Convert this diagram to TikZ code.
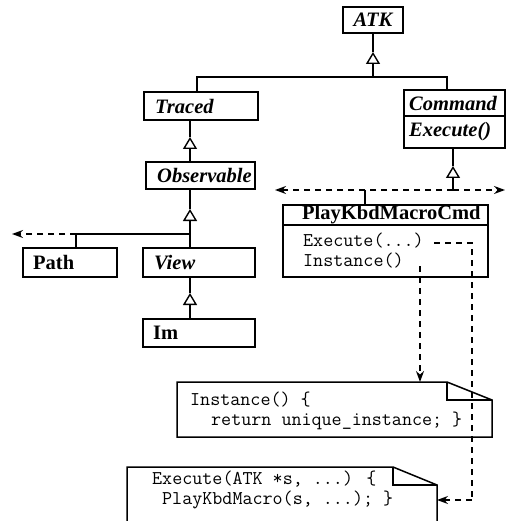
\documentclass[tikz,border=0pt]{standalone}
\usepackage{fontspec}
\setmainfont{Liberation Serif}
\usetikzlibrary{arrows.meta}
\begin{document}
\begin{tikzpicture}[x=1pt,y=-1pt,
  box/.style={draw, line width=1.4pt, inner sep=0pt},
  ghost/.style={inner sep=0pt, outer sep=0pt},
  lbli/.style={anchor=west, inner sep=0pt, font=\fontsize{20.5}{24}\selectfont\bfseries\itshape},
  lblb/.style={anchor=west, inner sep=0pt, font=\fontsize{20.5}{24}\selectfont\bfseries},
  code/.style={anchor=west, inner sep=0pt, font=\fontsize{19.5}{22}\selectfont\ttfamily},
  conn/.style={line width=1.4pt},
  inh/.style={conn, -{Triangle[open,length=12pt,width=14pt]}},
  dep/.style={conn, dash pattern=on 6pt off 5pt, -{Stealth[length=11pt,width=8pt]}},
  note/.style={line width=1.5pt, line join=miter}
]
\useasboundingbox (0,0) rectangle (507,521);

% class boxes
\node[box, minimum width=60pt, minimum height=26pt] (atk) at (373,20) {};
\node[lbli, anchor=center] (atkt) at (373,20) {ATK};

\node[box, minimum width=114pt, minimum height=28pt] (traced) at (201,106) {};
\node[lbli] (tracedt) at (155,106) {Traced};

\node[box, minimum width=109pt, minimum height=27pt] (obs) at (200.5,175.5) {};
\node[lbli] (obst) at (157,175.5) {Observable};

\node[box, minimum width=94pt, minimum height=29pt] (path) at (70,262.5) {};
\node[lblb] (patht) at (33,262.5) {Path};

\node[box, minimum width=112pt, minimum height=29pt] (view) at (199,262.5) {};
\node[lbli] (viewt) at (154,262.5) {View};

\node[box, minimum width=112pt, minimum height=28pt] (im) at (199,333) {};
\node[lblb] (imt) at (153,333) {Im};

\node[box, minimum width=101pt, minimum height=58pt] (cmd) at (454.5,119) {};
\draw[line width=1.4pt] (cmd.west |- 0,116) -- (cmd.east |- 0,116);
\node[lbli] (cmdt) at (409,103) {Command};
\node[lbli] (cmdop) at (409,132) {Execute()};

\node[box, minimum width=205pt, minimum height=72pt] (play) at (385.5,241) {};
\draw[line width=1.4pt] (play.west |- 0,225) -- (play.east |- 0,225);
\node[lblb] (playt) at (302,215) {PlayKbdMacroCmd};
\node[code] (pexec) at (303,241) {Execute(...)};
\node[code] (pinst) at (303,261) {Instance()};

% notes
\node[ghost, minimum width=315pt, minimum height=55pt] (note1) at (334.5,409.5) {};
\draw[note] (note1.north west) -- ([xshift=-45pt]note1.north east)
  -- ([yshift=-18pt]note1.north east) -- (note1.south east) -- (note1.south west) -- cycle;
\draw[line width=1.2pt] ([xshift=-45pt]note1.north east) -- ([xshift=-45pt,yshift=-18pt]note1.north east)
  -- ([yshift=-18pt]note1.north east);
\node[code] (n1a) at (190,400) {Instance() \{};
\node[code] (n1b) at (211,421) {return unique\_instance; \}};

\node[ghost, minimum width=310pt, minimum height=54pt] (note2) at (282,494) {};
\draw[note] (note2.south west) -- (note2.north west) -- ([xshift=-44pt]note2.north east)
  -- ([yshift=-18pt]note2.north east) -- (note2.south east);
\draw[line width=1.2pt] ([xshift=-44pt]note2.north east) -- ([xshift=-44pt,yshift=-18pt]note2.north east)
  -- ([yshift=-18pt]note2.north east);
\node[code] (n2a) at (152,479) {Execute(ATK *s, ...) \{};
\node[code] (n2b) at (162,500) {PlayKbdMacro(s, ...); \}};

% junction coordinates
\coordinate (busA) at (373,77);
\coordinate (atkTip) at (373,52);
\coordinate (busAl) at (197,77);
\coordinate (busAr) at (447,77);
\coordinate (trTip) at (190,137);
\coordinate (obTip) at (190,209);
\coordinate (busB) at (190,234);
\coordinate (busBl) at (76,234);
\coordinate (leftEnd) at (12,234);
\coordinate (viTip) at (190,293);
\coordinate (cmTip) at (453,166);
\coordinate (busC) at (453,190);
\coordinate (busCp) at (365,190);
\coordinate (busCl) at (275,190);
\coordinate (busCr) at (505,190);
\coordinate (execS) at (434,243);
\coordinate (execD) at (472,243);
\coordinate (execB) at (472,500);
\coordinate (instS) at (420,266);

% generalisation ATK
\draw[inh] (busA) -- (atkTip);
\draw[conn] (atkTip) -- (atk.south);
\draw[conn] (traced.north -| busAl) -- (busAl) -- (busAr) -- (cmd.north -| busAr);

% Traced -> Observable
\draw[inh] (obs.north -| trTip) -- (trTip);
\draw[conn] (trTip) -- (traced.south -| trTip);

% Observable -> View / Path
\draw[inh] (busB) -- (obTip);
\draw[conn] (obTip) -- (obs.south -| obTip);
\draw[conn] (view.north -| busB) -- (busB) -- (busBl) -- (path.north -| busBl);
\draw[dep] (busBl) -- (leftEnd);

% View -> Im
\draw[inh] (im.north -| viTip) -- (viTip);
\draw[conn] (viTip) -- (view.south -| viTip);

% Command -> subclasses
\draw[inh] (busC) -- (cmTip);
\draw[conn] (cmTip) -- (cmd.south -| cmTip);
\draw[dep] (busC) -- (busCl);
\draw[dep] (busC) -- (busCr);
\draw[conn] (busCp) -- (play.north -| busCp);

% implementation notes
\draw[dep] (instS) -- (note1.north -| instS);
\draw[conn, dash pattern=on 6pt off 5pt] (execS) -- (execD) -- (execB);
\draw[dep] (execB) -- (note2.east |- execB);
\end{tikzpicture}
\end{document}
